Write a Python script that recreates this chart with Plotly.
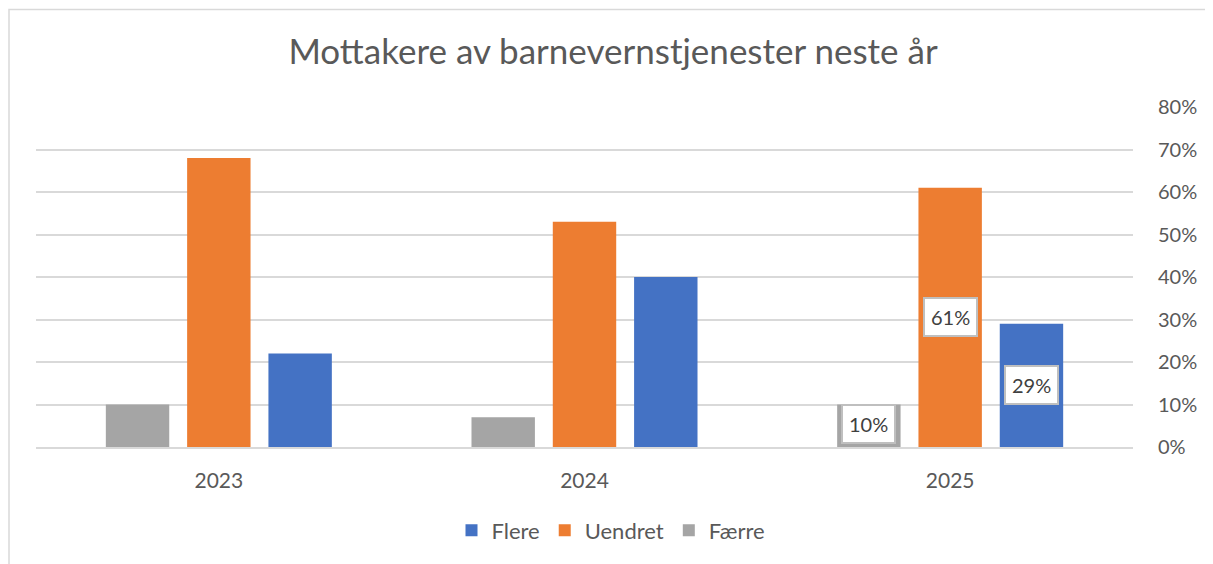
import plotly.graph_objects as go

years = ["2023", "2024", "2025"]
faerre = [0.10, 0.07, 0.10]
uendret = [0.68, 0.53, 0.61]
flere = [0.22, 0.40, 0.29]
series_names = ["Færre", "Uendret", "Flere"]
colors = ["#A5A5A5", "#ED7D31", "#4472C4"]
labelled_year = "2025"
y_ticks = [0, 0.1, 0.2, 0.3, 0.4, 0.5, 0.6, 0.7, 0.8]

# page body adds 8px offset; figure sized to fill the remaining window
W, H = 1205, 556
ML, MR, MT, MB = 28, 80, 99, 115
BARGAP, GROUPGAP = 0.333, 0.22
FONT = "Lato, 'Open Sans', sans-serif"
TXT = "#595959"

fig = go.Figure()
all_vals = [faerre, uendret, flere]
for name, vals, col in zip(series_names, all_vals, colors):
    fig.add_trace(go.Bar(x=years, y=vals, name=name, marker_color=col,
                         marker_line_width=0))

plot_w = W - ML - MR
plot_h = H - MT - MB
cat_px = plot_w / len(years)
slot = (1 - BARGAP) * cat_px / len(series_names)
idx = years.index(labelled_year)
for k, vals in enumerate(all_vals):
    v = vals[idx]
    fig.add_annotation(x=idx, y=v / 2, xref="x", yref="y",
                       text=f"{round(v*100)}%", showarrow=False,
                       xshift=(k - 1) * slot, yshift=2 if k == 0 else 0,
                       font=dict(family=FONT, size=20, color="#404040"),
                       bgcolor="white", bordercolor="#BFBFBF", borderwidth=2,
                       borderpad=6)

fig.add_shape(type="rect", xref="paper", yref="paper",
              x0=(1 - ML) / plot_w, x1=1 + (MR + 20) / plot_w,
              y0=-(MB + 20) / plot_h, y1=1 + (MT - 1) / plot_h,
              line=dict(color="#D9D9D9", width=1.5), fillcolor="rgba(0,0,0,0)",
              layer="below")

fig.update_layout(
    width=W, height=H,
    margin=dict(l=ML, r=MR, t=MT, b=MB),
    paper_bgcolor="white", plot_bgcolor="white",
    barmode="group", bargap=BARGAP, bargroupgap=GROUPGAP,
    title=dict(text="Mottakere av barnevernstjenester neste år",
               x=605 / W, xanchor="center", y=1 - 44 / H, yanchor="middle",
               font=dict(family=FONT, size=35, color=TXT)),
    font=dict(family=FONT, size=20, color=TXT),
    legend=dict(orientation="h", traceorder="reversed",
                x=(603 - ML) / plot_w, xanchor="center",
                y=-(525 - (H - MB)) / plot_h, yanchor="middle",
                font=dict(size=22, color=TXT), itemwidth=30),
    showlegend=True,
)
fig.update_xaxes(type="category", range=[-0.5, len(years) - 0.5],
                 showgrid=False, showline=True,
                 linecolor="#D9D9D9", linewidth=1.5,
                 ticks="", ticklabelstandoff=14, tickfont=dict(size=21, color=TXT))
fig.update_yaxes(side="right", range=[0, 0.8], tickvals=y_ticks, tickformat=".0%",
                 showgrid=True, gridcolor="#D9D9D9", gridwidth=1.5,
                 zeroline=False, showline=False, ticks="",
                 ticklabelstandoff=24, tickfont=dict(size=20, color=TXT))

fig.write_html("out.html")
